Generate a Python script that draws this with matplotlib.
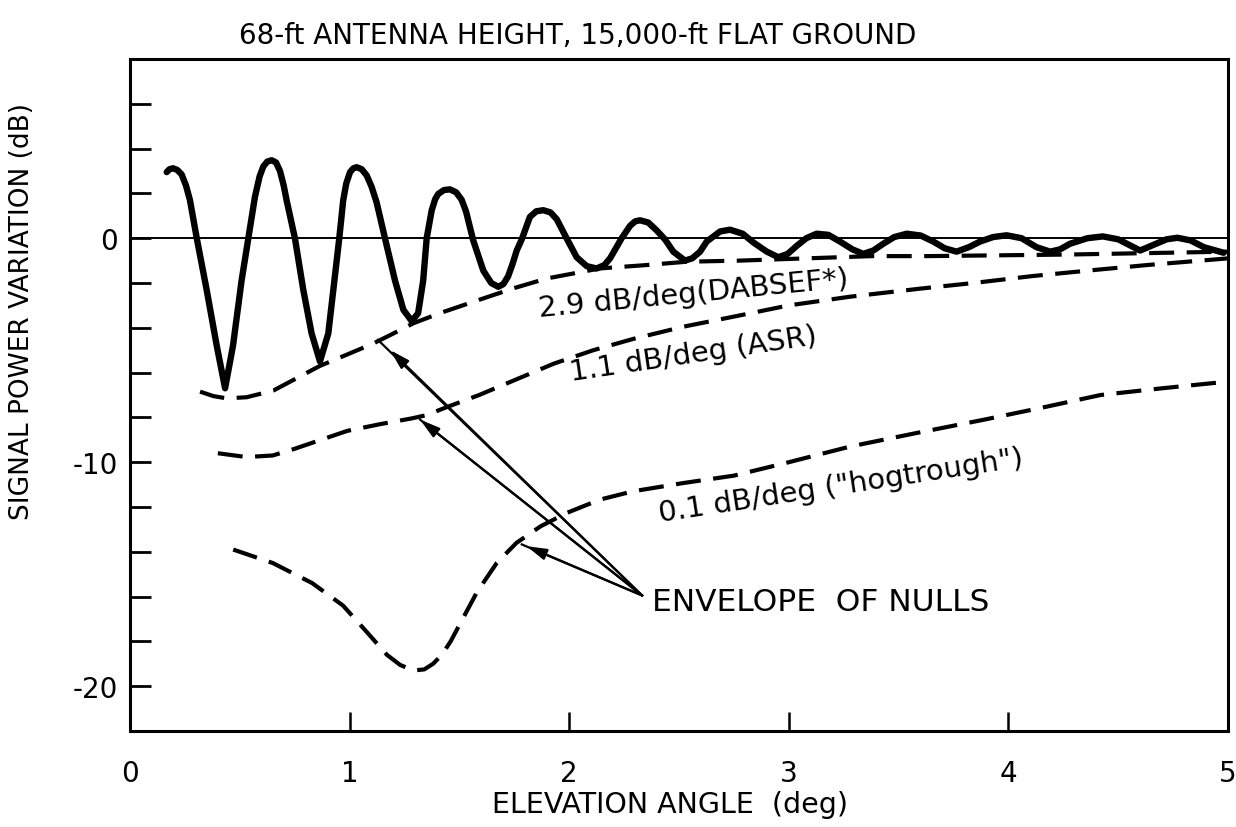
import matplotlib
matplotlib.use("Agg")
import matplotlib.pyplot as plt
from matplotlib.ticker import FixedLocator, FixedFormatter

plt.rcParams['font.family'] = ['DejaVu Sans']

# ---------------- data ----------------
title_text = "68-ft ANTENNA HEIGHT, 15,000-ft FLAT GROUND"
xlabel_text = "ELEVATION ANGLE  (deg)"
ylabel_text = "SIGNAL POWER VARIATION (dB)"

x_ticks = [0, 1, 2, 3, 4, 5]
x_ticklabels = ["0", "1", "2", "3", "4", "5"]
y_major = [-20, -10, 0]
y_majorlabels = ["-20", "-10", "0"]
y_minor = [-18, -16, -14, -12, -8, -6, -4, -2, 2, 4, 6]

# signal power variation (solid curve)
sig_x = [0.167, 0.180, 0.196, 0.215, 0.235, 0.255, 0.273, 0.304, 0.349, 0.395,
         0.433, 0.469, 0.508, 0.539, 0.569, 0.590, 0.607, 0.625, 0.645, 0.665,
         0.683, 0.700, 0.713, 0.751, 0.789, 0.827, 0.865, 0.903, 0.926, 0.953,
         0.971, 0.985, 1.002, 1.017, 1.032, 1.055, 1.078, 1.100, 1.123, 1.161,
         1.207, 1.245, 1.283, 1.312, 1.335, 1.351, 1.374, 1.390, 1.404, 1.430,
         1.457, 1.485, 1.510, 1.530, 1.548, 1.563, 1.609, 1.645, 1.677, 1.700,
         1.722, 1.742, 1.761, 1.784, 1.821, 1.850, 1.882, 1.915, 1.943, 1.988,
         2.034, 2.080, 2.125, 2.160, 2.186, 2.239, 2.277, 2.300, 2.322, 2.360,
         2.398, 2.436, 2.474, 2.527, 2.560, 2.596, 2.626, 2.687, 2.732, 2.790,
         2.840, 2.900, 2.952, 2.995, 3.035, 3.080, 3.127, 3.180, 3.233, 3.290,
         3.339, 3.385, 3.430, 3.480, 3.537, 3.600, 3.658, 3.710, 3.764, 3.820,
         3.871, 3.930, 3.992, 4.060, 4.128, 4.190, 4.235, 4.280, 4.360, 4.430,
         4.500, 4.550, 4.600, 4.660, 4.720, 4.770, 4.830, 4.890, 4.980]
sig_y = [2.95, 3.08, 3.12, 3.05, 2.85, 2.35, 1.70, 0.00, -2.30, -4.80,
         -6.70, -4.80, -1.90, 0.00, 1.85, 2.75, 3.20, 3.42, 3.48, 3.38,
         3.00, 2.35, 1.70, 0.00, -2.30, -4.25, -5.50, -4.25, -2.30, 0.00,
         1.70, 2.45, 2.95, 3.12, 3.17, 3.08, 2.80, 2.30, 1.60, 0.00,
         -1.90, -3.20, -3.70, -3.35, -1.90, 0.00, 1.25, 1.75, 1.98, 2.15,
         2.18, 2.05, 1.72, 1.20, 0.50, -0.10, -1.45, -2.00, -2.17, -2.05,
         -1.70, -1.15, -0.55, -0.05, 0.95, 1.20, 1.25, 1.15, 0.85, 0.00,
         -0.85, -1.25, -1.35, -1.20, -0.90, 0.00, 0.55, 0.75, 0.80, 0.70,
         0.35, -0.05, -0.60, -1.00, -0.90, -0.60, -0.15, 0.30, 0.38, 0.20,
         -0.20, -0.60, -0.85, -0.70, -0.35, 0.00, 0.20, 0.15, -0.15, -0.50,
         -0.70, -0.55, -0.25, 0.05, 0.20, 0.12, -0.15, -0.45, -0.60, -0.40,
         -0.15, 0.05, 0.13, 0.00, -0.40, -0.60, -0.50, -0.25, 0.00, 0.08,
         -0.05, -0.30, -0.55, -0.30, -0.05, 0.02, -0.10, -0.40, -0.65]

# envelope of nulls, 2.9 dB/deg (DABSEF*)
envA_x = [0.319, 0.38, 0.44, 0.531, 0.653, 0.759, 0.865, 0.987, 1.108, 1.2,
          1.29, 1.41, 1.563, 1.745, 1.897, 2.14, 2.35, 2.535, 2.778, 3.08,
          3.38, 3.63, 4.27, 5.0]
envA_y = [-6.85, -7.05, -7.15, -7.1, -6.8, -6.25, -5.7, -5.2, -4.7, -4.25,
          -3.8, -3.35, -2.84, -2.24, -1.8, -1.35, -1.2, -1.05, -1.0, -0.9,
          -0.8, -0.8, -0.73, -0.6]

# envelope of nulls, 1.1 dB/deg (ASR)
envB_x = [0.40, 0.53, 0.65, 0.75, 0.87, 0.99, 1.14, 1.28, 1.35, 1.44, 1.59,
          1.76, 1.93, 2.11, 2.29, 2.52, 2.75, 3.0, 3.28, 3.6, 3.85, 4.11,
          4.38, 4.63, 5.0]
envB_y = [-9.6, -9.77, -9.7, -9.4, -9.0, -8.6, -8.3, -8.05, -7.9, -7.55, -7.0,
          -6.3, -5.6, -5.0, -4.5, -3.95, -3.5, -3.0, -2.61, -2.25, -1.99, -1.69,
          -1.43, -1.2, -0.9]

# envelope of nulls, 0.1 dB/deg ("hogtrough")
envC_x = [0.47, 0.65, 0.83, 0.97, 1.08, 1.17, 1.23, 1.29, 1.34, 1.38, 1.42,
          1.46, 1.52, 1.58, 1.67, 1.76, 1.87, 1.99, 2.14, 2.29, 2.52, 2.75,
          2.98, 3.28, 3.58, 3.89, 4.16, 4.42, 4.7, 5.0]
envC_y = [-13.9, -14.5, -15.4, -16.4, -17.6, -18.6, -19.05, -19.3, -19.25,
          -19.0, -18.6, -18.0, -16.9, -15.8, -14.5, -13.6, -12.86, -12.26,
          -11.67, -11.3, -10.93, -10.6, -10.05, -9.3, -8.7, -8.1, -7.55, -7.0,
          -6.7, -6.4]

# curve labels: text, (x, y) centre, rotation
curve_labels = ["2.9 dB/deg(DABSEF*)", "1.1 dB/deg (ASR)", "0.1 dB/deg (\"hogtrough\")"]
curve_label_x = [2.564, 2.565, 3.238]
curve_label_y = [-2.45, -5.15, -11.05]
curve_label_rot = [5.5, 8.5, 8.7]

# "envelope of nulls" callout
callout_text = "ENVELOPE  OF NULLS"
callout_xy = (2.377, -16.2)
arrow_tail = (2.332, -15.95)
arrow_tip_x = [1.129, 1.321, 1.784]
arrow_tip_y = [-4.54, -8.10, -13.67]
arrow_head_x = [1.184, 1.321, 1.806]
arrow_head_y = [-4.99, -8.10, -13.75]

# ---------------- figure ----------------
W, H = 1236, 828
fig = plt.figure(figsize=(W / 100, H / 100), dpi=100)
ax = fig.add_axes([130 / W, (H - 732) / H, 1098 / W, 672 / H])
ax.set_xlim(0, 5)
ax.set_ylim(-22, 8)

FS = 20
ax.axhline(0, color='black', lw=1.4, zorder=2)

ax.plot(sig_x, sig_y, color='black', lw=4.6, solid_joinstyle='round',
        solid_capstyle='round', zorder=4)
for ex, ey in [(envA_x, envA_y), (envB_x, envB_y), (envC_x, envC_y)]:
    ax.plot(ex, ey, color='black', lw=3.0, dashes=(6, 3), zorder=3)

for t, lx, ly, r in zip(curve_labels, curve_label_x, curve_label_y, curve_label_rot):
    ax.text(lx, ly, t, fontsize=FS + 1, rotation=r, rotation_mode='anchor',
            ha='center', va='center', zorder=5)

ax.text(callout_xy[0], callout_xy[1], callout_text, fontsize=FS + 2.5,
        ha='left', va='center', zorder=5)
for tx, ty, hx, hy in zip(arrow_tip_x, arrow_tip_y, arrow_head_x, arrow_head_y):
    ax.plot([arrow_tail[0], tx], [arrow_tail[1], ty], color='black', lw=1.6, zorder=3)
    ax.annotate('', xy=(hx, hy), xytext=arrow_tail,
                arrowprops=dict(arrowstyle='-|>,head_length=0.6,head_width=0.17',
                                color='black', lw=1.6, shrinkA=0, shrinkB=0,
                                mutation_scale=20), zorder=3)

# axes styling
for s in ax.spines.values():
    s.set_linewidth(2.2)
ax.xaxis.set_major_locator(FixedLocator(x_ticks))
ax.xaxis.set_major_formatter(FixedFormatter(x_ticklabels))
ax.yaxis.set_major_locator(FixedLocator(y_major))
ax.yaxis.set_major_formatter(FixedFormatter(y_majorlabels))
ax.yaxis.set_minor_locator(FixedLocator(y_minor))
ax.tick_params(axis='x', which='major', direction='in', length=14, width=1.8,
               labelsize=FS, pad=20)
ax.tick_params(axis='y', which='major', direction='in', length=25, width=2.0,
               labelsize=FS, pad=9)
ax.tick_params(axis='y', which='minor', direction='in', length=15, width=2.0)
for tk in ax.yaxis.get_major_ticks():
    if tk.get_loc() == 0:
        tk.tick1line.set_markersize(15)

fig.text(578 / W, 1 - 36 / H, title_text, fontsize=FS, ha='center', va='center')
fig.text(670 / W, 1 - 805 / H, xlabel_text, fontsize=FS + 0.5, ha='center', va='center')
fig.text(22 / W, 1 - 312 / H, ylabel_text, fontsize=FS - 1, rotation=90,
         ha='center', va='center')

fig.savefig("out.png", dpi=100)
